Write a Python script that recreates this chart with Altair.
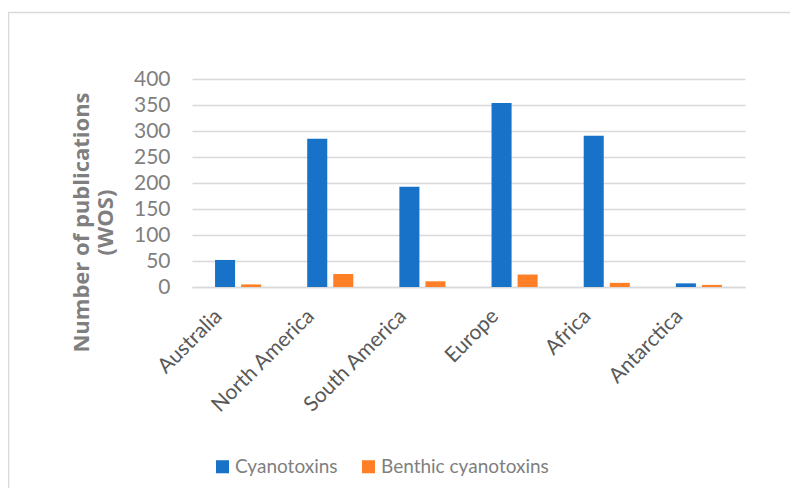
import altair as alt
import pandas as pd

continents = ["Australia", "North America", "South America", "Europe", "Africa", "Antarctica"]
cyanotoxins = [52, 285, 193, 354, 291, 7]
benthic = [5, 25, 11, 24, 8, 4]
series = ["Cyanotoxins", "Benthic cyanotoxins"]
colors = ["#1772C8", "#FF7F27"]

rows = []
for c, a, b in zip(continents, cyanotoxins, benthic):
    rows.append({"continent": c, "series": series[0], "value": a})
    rows.append({"continent": c, "series": series[1], "value": b})
df = pd.DataFrame(rows)

FONT = "Lato"
GREY = "#7f7f7f"

bars = alt.Chart(df).mark_bar().encode(
    x=alt.X("continent:N", sort=continents,
            scale=alt.Scale(paddingInner=0.5, paddingOuter=0.25),
            axis=alt.Axis(title=None, labelAngle=-45, labelFontSize=21,
                          labelColor="#595959", labelFont=FONT, ticks=False,
                          domainColor="#d9d9d9", domainWidth=1.5, labelPadding=18,
                          labelOffset=-27)),
    xOffset=alt.XOffset("series:N", sort=series,
                        scale=alt.Scale(paddingInner=0.23, paddingOuter=0)),
    y=alt.Y("value:Q", scale=alt.Scale(domain=[0, 400]),
            axis=alt.Axis(values=list(range(0, 401, 50)), title=["Number of publications", "(WOS)"],
                          titleFontSize=22, titleFontWeight="bold", titleColor=GREY,
                          titleFont="Open Sans", titleX=-121, titleY=143, titleAngle=-90,
                          titleBaseline="top", titleAlign="center", titleLineHeight=24,
                          labelFontSize=21, labelColor=GREY, labelFont=FONT,
                          ticks=False, domain=False, labelPadding=22,
                          gridColor="#d9d9d9", gridWidth=1.5)),
    color=alt.Color("series:N", sort=series,
                    scale=alt.Scale(domain=series, range=colors),
                    legend=alt.Legend(title=None, orient="none", direction="horizontal",
                                      legendX=21, legendY=378, symbolType="square",
                                      symbolSize=170, symbolStrokeWidth=0,
                                      labelFontSize=19, labelColor=GREY, labelFont=FONT,
                                      labelLimit=400,
                                      columnPadding=21, labelOffset=3)),
)

border = alt.Chart(pd.DataFrame({"a": [0]})).mark_rect(
    fill=None, stroke="#d9d9d9", strokeWidth=1.5, clip=False
).encode(x=alt.value(-183.5), x2=alt.value(700), y=alt.value(-66.5), y2=alt.value(600))

chart = alt.layer(border, bars).properties(
    width=553, height=208,
    autosize=alt.AutoSizeParams(type="none"),
    padding={"left": 184, "top": 71, "right": 45, "bottom": 201},
).configure_view(stroke=None)

chart.save("out.html", embed_options={"renderer": "svg", "actions": False})
